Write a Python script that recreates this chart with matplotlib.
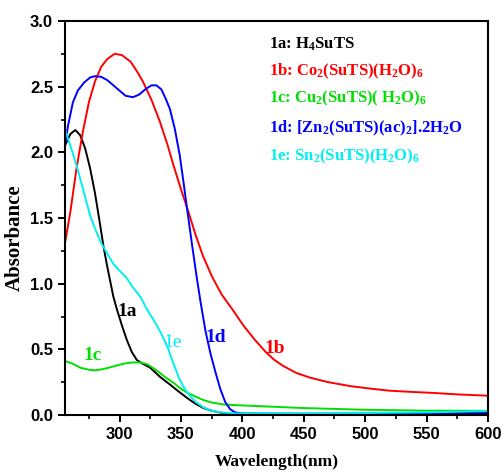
import numpy as np
import matplotlib
matplotlib.use("Agg")
import matplotlib.pyplot as plt
from matplotlib.ticker import MultipleLocator

plt.rcParams["mathtext.fontset"] = "custom"
plt.rcParams["mathtext.rm"] = "Liberation Serif:bold"
plt.rcParams["mathtext.default"] = "rm"

# 1a: black
wl_a = [256, 260, 264, 268, 272, 276, 280, 284, 287, 290, 295, 298, 302, 306, 310, 314, 318,
        325, 333, 340, 348, 355, 362, 368, 374, 382, 390, 400, 450, 500, 550, 600]
abs_a = [2.06, 2.14, 2.17, 2.13, 2.03, 1.88, 1.69, 1.46, 1.28, 1.13, 0.90, 0.80, 0.68, 0.57, 0.48, 0.42, 0.395,
         0.36, 0.29, 0.24, 0.18, 0.13, 0.085, 0.055, 0.035, 0.018, 0.01, 0.006, 0.005, 0.007, 0.008, 0.01]

# 1b: red
wl_b = [256, 260, 265, 270, 275, 280, 285, 290, 296, 302, 309, 314, 319, 326, 333, 339, 344, 350,
        356, 362, 368, 375, 383, 393, 401, 410, 419, 426, 433, 444, 455, 470, 488, 505, 520, 540,
        556, 575, 600]
abs_b = [1.33, 1.55, 1.88, 2.15, 2.38, 2.54, 2.65, 2.71, 2.75, 2.74, 2.69, 2.62, 2.54, 2.40, 2.23, 2.06, 1.90, 1.72,
         1.55, 1.37, 1.21, 1.06, 0.92, 0.79, 0.68, 0.575, 0.48, 0.42, 0.375, 0.32, 0.285, 0.25, 0.22, 0.20, 0.185, 0.175,
         0.168, 0.157, 0.147]

# 1c: green
wl_c = [256, 262, 268, 275, 280, 287, 295, 303, 310, 317, 323, 330, 337, 344, 350, 356, 362, 368,
        375, 385, 395, 420, 450, 500, 550, 600]
abs_c = [0.41, 0.39, 0.36, 0.345, 0.34, 0.35, 0.37, 0.39, 0.40, 0.40, 0.385, 0.34, 0.29, 0.245, 0.20, 0.165, 0.14, 0.115,
         0.095, 0.08, 0.075, 0.065, 0.053, 0.04, 0.033, 0.032]

# 1d: blue
wl_d = [256, 258, 262, 266, 271, 276, 280, 285, 290, 295, 300, 305, 311, 316, 321, 326, 330, 334,
        338, 341, 345, 349, 352, 355, 359, 363, 366, 370, 374, 378, 382, 386, 390, 394, 400,
        450, 500, 550, 600]
abs_d = [2.08, 2.20, 2.38, 2.47, 2.53, 2.57, 2.58, 2.575, 2.55, 2.51, 2.47, 2.43, 2.42, 2.44, 2.48, 2.51, 2.51, 2.48,
         2.40, 2.33, 2.18, 1.98, 1.78, 1.57, 1.30, 1.04, 0.86, 0.64, 0.47, 0.33, 0.20, 0.10, 0.045, 0.02, 0.012,
         0.01, 0.012, 0.015, 0.02]

# 1e: cyan
wl_e = [256, 260, 265, 270, 276, 280, 285, 290, 295, 300, 306, 311, 317, 322, 328, 334, 339, 344,
        349, 353, 357, 362, 368, 374, 382, 395, 450, 500, 550, 600]
abs_e = [2.16, 2.05, 1.90, 1.73, 1.52, 1.42, 1.31, 1.23, 1.15, 1.10, 1.04, 0.97, 0.90, 0.81, 0.72, 0.62, 0.52, 0.39,
         0.27, 0.20, 0.15, 0.10, 0.06, 0.035, 0.02, 0.012, 0.012, 0.015, 0.02, 0.03]

series = [("1a", wl_a, abs_a, "black"),
          ("1b", wl_b, abs_b, "#ff0000"),
          ("1c", wl_c, abs_c, "#00e000"),
          ("1d", wl_d, abs_d, "#0000ff"),
          ("1e", wl_e, abs_e, "#00f0f0")]

legend_texts = ["1a: H$_4$SuTS",
                "1b: Co$_2$(SuTS)(H$_2$O)$_6$",
                "1c: Cu$_2$(SuTS)( H$_2$O)$_6$",
                "1d: [Zn$_2$(SuTS)(ac)$_2$].2H$_2$O",
                "1e: Sn$_2$(SuTS)(H$_2$O)$_6$"]

fig = plt.figure(figsize=(5.03, 4.73), dpi=100)
ax = fig.add_axes([0.129, 0.1226, 0.841, 0.833])

for name, x, y, c in series:
    ax.plot(x, y, color=c, lw=1.4)

ax.set_xlim(255.5, 600)
ax.set_ylim(0, 3.0)
ax.xaxis.set_major_locator(MultipleLocator(50))
ax.xaxis.set_minor_locator(MultipleLocator(25))
ax.yaxis.set_major_locator(MultipleLocator(0.5))
ax.yaxis.set_minor_locator(MultipleLocator(0.25))
ax.set_xticks([300, 350, 400, 450, 500, 550, 600])
ax.tick_params(which="major", direction="out", length=5, width=1.4)
ax.tick_params(which="minor", direction="out", length=3, width=1.2)
ax.tick_params(top=False, right=False)
for s in ax.spines.values():
    s.set_linewidth(1.5)

for lab in ax.get_xticklabels() + ax.get_yticklabels():
    lab.set_fontfamily("Liberation Sans")
    lab.set_fontweight("bold")
    lab.set_fontsize(12)
ax.yaxis.set_major_formatter(matplotlib.ticker.FormatStrFormatter("%.1f"))

serif = dict(family="Liberation Serif", weight="bold")
ax.set_xlabel("Wavelength(nm)", fontsize=12.5, **serif)
ax.set_ylabel("Absorbance", fontsize=15, **serif)
ax.xaxis.set_label_coords(0.5, -0.098)
ax.yaxis.set_label_coords(-0.095, 0.45)

# legend-like text block
leg_y = [2.82, 2.62, 2.41, 2.18, 1.97]
for (name, x, y, c), txt, ly in zip(series, legend_texts, leg_y):
    ax.text(422, ly, txt, color=c, fontsize=12, va="center", ha="left", **serif)

# curve labels
curve_labels = [("1a", 306, 0.79, "black", "bold"),
                ("1c", 278, 0.45, "#00e000", "bold"),
                ("1e", 343, 0.55, "#00f0f0", "normal"),
                ("1d", 378, 0.59, "#0000ff", "bold"),
                ("1b", 426, 0.51, "#ff0000", "bold")]
for t, x, y, c, w in curve_labels:
    ax.text(x, y, t, color=c, fontsize=14, ha="center", va="center",
            family="Liberation Serif", weight=w)

fig.savefig("out.png", dpi=100)
